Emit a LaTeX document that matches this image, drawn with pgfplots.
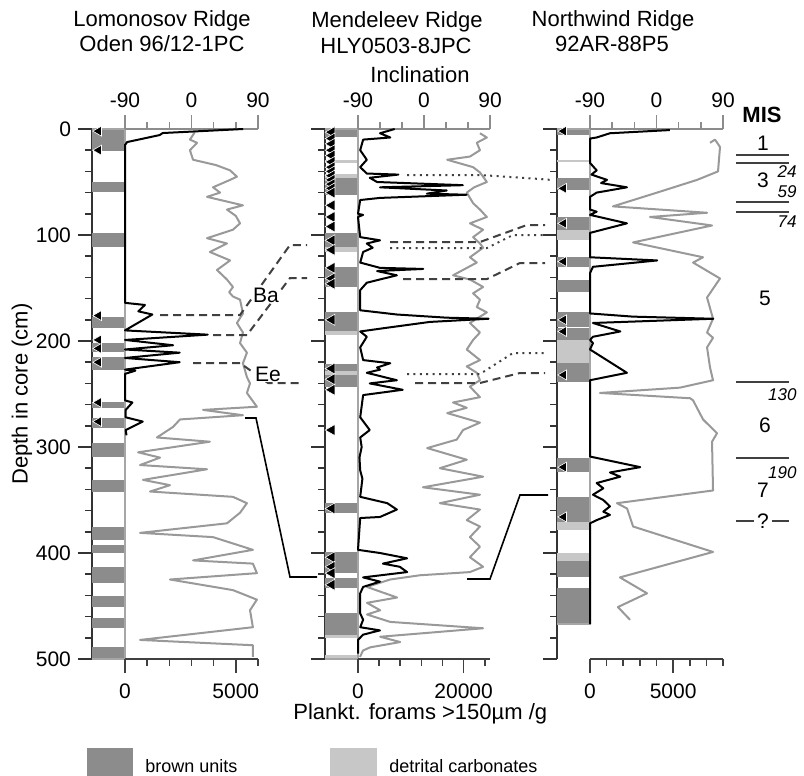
\documentclass[border=0pt]{standalone}
\usepackage{fontspec}
\setmainfont{Liberation Sans}
\usepackage{pgfplots}
\pgfplotsset{compat=1.18}
\definecolor{brownu}{gray}{0.55}
\definecolor{detc}{gray}{0.78}
\definecolor{fcurve}{gray}{0.6}
\definecolor{axg}{gray}{0.55}
\newcommand{\band}[3]{\addplot[fill=#3,draw=none,forget plot] coordinates {(0,#1) (1,#1) (1,#2) (0,#2)};}
\newcommand{\tfont}{\fontsize{10.5}{12}\selectfont}
\pgfplotsset{
 panel/.style={scale only axis, height=265pt, ymin=0, ymax=500, y dir=reverse, clip=false, anchor=center,
   tick align=outside, major tick length=7pt, minor tick length=3.5pt,
   ticklabel style={font=\tfont}, scaled x ticks=false, scaled y ticks=false},
 colaxis/.style={panel, width=16.5pt, xmin=0, xmax=1, axis x line=none, axis y line*=left,
   ytick={0,100,...,500}, minor ytick={20,40,...,480},
   y axis line style={line width=1pt, black!80},
   every tick/.style={black!80, line width=0.8pt}},
 inclaxis/.style={panel, xmin=-90, xmax=90, axis x line*=top, axis y line=none, ytick=\empty,
   xtick={-90,0,90}, xticklabels={-90,0,90}, minor xtick={-60,-30,30,60},
   x axis line style={axg, line width=1pt}, every tick/.style={axg, line width=0.8pt}},
 foramaxis/.style={panel, xmin=0, axis x line*=bottom, axis y line=none, ytick=\empty,
   x axis line style={black!75, line width=1pt}, every tick/.style={black!75, line width=0.8pt},
   xticklabel shift=2pt},
 tri/.style={only marks, mark=triangle*, mark size=2.9pt, mark options={rotate=90, fill=black, draw=white, line width=0.3pt}},
 incl/.style={black, line width=1pt, mark=none, line join=round},
 foram/.style={fcurve, line width=1pt, mark=none, line join=round},
}
\begin{document}
\begin{tikzpicture}
\path[use as bounding box] (0,0) rectangle (402pt,-388pt);

% ===== Left panel: Lomonosov Ridge =====
\begin{axis}[colaxis, at={(54.25pt,-197pt)}, yticklabels={0,100,200,300,400,500}]
\band{0}{21}{brownu}\band{50}{59}{brownu}\band{98}{111}{brownu}\band{177}{188}{brownu}
\band{202}{210}{brownu}\band{215}{227}{brownu}\band{258}{263}{brownu}\band{273}{282}{brownu}
\band{296}{309}{brownu}\band{331}{342}{brownu}\band{375}{388}{brownu}\band{392}{400}{brownu}
\band{413}{428}{brownu}\band{441}{451}{brownu}\band{461}{471}{brownu}\band{489}{500}{brownu}
\addplot[gray!70, line width=0.6pt] coordinates {(0,0) (1,0) (1,500) (0,500)};
\addplot[tri] coordinates {(0.2,2) (0.2,20) (0.2,176) (0.2,199) (0.2,207) (0.2,220) (0.2,258) (0.2,276)};
\end{axis}
\begin{axis}[foramaxis, at={(95.75pt,-197pt)}, width=66.5pt, xmax=6000,
  xtick={0,5000}, xticklabels={0,5000}, minor xtick={1000,2000,3000,4000,6000}]
\addplot[foram] coordinates {(3150,3) (2930,10) (3250,13) (2930,20) (3070,29) (4100,34) (4740,39) (5050,45) (4740,48) (3970,55) (4290,60) (3700,64) (5320,72) (4600,76) (5000,82) (5190,89) (4870,95) (3700,103) (4600,108) (3830,116) (4740,124) (4150,133) (4600,142) (4870,149) (4700,154) (4870,158) (5190,161) (5320,174) (5050,183) (5320,192) (5190,202) (5500,211) (5320,221) (5500,234) (5640,240) (5500,249) (5950,262) (3520,265) (5320,270) (2480,274) (2170,281) (1440,291) (3830,295) (590,305) (1580,310) (680,317) (3700,321) (810,331) (2030,336) (1130,342) (4870,347) (5500,353) (5190,362) (4600,372) (680,381) (3970,385) (5770,397) (3070,407) (5770,410) (5950,419) (2030,425) (4870,435) (5950,444) (5640,454) (5770,470) (680,482) (5770,487) (5770,498)};
\end{axis}
\begin{axis}[inclaxis, at={(95.75pt,-197pt)}, width=66.5pt]
\addplot[incl] coordinates {(70,0) (-39,3.8) (-43,5.7) (-87,12.3) (-90,15) (-90,164) (-63,166) (-72,172) (-53,175) (-90,190) (22,194) (-90,199) (-25,204) (-90,208) (-16,211) (-90,216) (-16,220) (-90,227) (-76,228) (-90,231) (-90,256) (-80,258) (-89,265) (-89,272) (-66,276) (-89,284) (-88,289)};
\end{axis}

% ===== Middle panel: Mendeleev Ridge =====
\begin{axis}[colaxis, at={(170.75pt,-197pt)}, yticklabels={,,,,,}]
\band{29}{32}{detc}\band{42}{46}{detc}\band{0}{8}{brownu}\band{46}{62}{brownu}\band{98}{111}{brownu}
\band{111}{116}{detc}\band{130}{149}{brownu}\band{173}{191}{brownu}\band{191}{194}{detc}
\band{222}{228}{brownu}\band{228}{232}{detc}\band{232}{243}{brownu}\band{353}{362}{brownu}
\band{399}{419}{brownu}\band{424}{433}{brownu}\band{457}{477}{brownu}\band{477}{480}{detc}\band{496}{500}{detc}
\addplot[gray!70, line width=0.6pt] coordinates {(0,0) (1,0) (1,500) (0,500)};
\addplot[tri, mark size=3.2pt] coordinates {(0.2,3) (0.2,9) (0.2,14) (0.2,20) (0.2,25) (0.2,31) (0.2,36) (0.2,40) (0.2,44) (0.2,48) (0.2,52) (0.2,56) (0.2,60) (0.2,72) (0.2,83) (0.2,92) (0.2,105) (0.2,114) (0.2,131) (0.2,141) (0.2,146) (0.2,180) (0.2,226) (0.2,236) (0.2,246) (0.2,284) (0.2,358) (0.2,404) (0.2,413) (0.2,419) (0.2,430)};
\end{axis}
\begin{axis}[foramaxis, at={(212pt,-197pt)}, width=66pt, xmax=25000,
  xtick={0,20000}, xticklabels={0,20000}, minor xtick={4000,8000,12000,16000,24000}]
\addplot[foram] coordinates {(23100,4) (24400,8) (22500,13) (23100,20) (21200,26) (16900,29) (21800,36) (23100,41) (23700,45) (24400,50) (22000,55) (20600,60) (21800,70) (23100,76) (24400,83) (21200,89) (23700,95) (21800,102) (23100,108) (23700,112) (21200,121) (22500,126) (18000,138) (21200,142) (23700,149) (21800,155) (23100,161) (22500,168) (24400,173) (21200,183) (23100,192) (21800,199) (20600,208) (23100,218) (20600,224) (22500,230) (23100,237) (21200,243) (23100,253) (18000,258) (20600,263) (16900,268) (23100,277) (19900,284) (18700,293) (13100,301) (20600,312) (15500,320) (23700,328) (12300,338) (23100,345) (15500,353) (23100,359) (20600,369) (23100,375) (21200,385) (23100,394) (21200,404) (23700,413) (21200,418) (11700,421) (6100,425) (1700,432) (7400,442) (1700,447) (4200,454) (1700,458) (6100,465) (23700,471) (4200,479) (8000,484) (2300,489) (950,492) (380,498)};
\end{axis}
\begin{axis}[inclaxis, at={(212pt,-197pt)}, width=66pt]
\addplot[incl] coordinates {(-40,0) (-60,4) (-46,8) (-83,10) (-87,20) (-78,29) (-87,36) (-78,42) (-35,43) (-74,46) (-64,50) (53,53) (-60,55) (31,58) (4,61) (58,62) (-60,65) (-87,67) (-90,80) (-83,81) (-90,83) (-87,102) (-60,105) (-78,108) (-70,112) (-83,116) (-87,126) (-60,131) (-1,132) (-64,134) (-37,138) (-78,145) (-87,152) (-87,171) (-37,175) (31,178) (88,179) (8,182) (-56,188) (-87,191) (-78,196) (-87,206) (-83,218) (-46,221) (-64,225) (-60,227) (-78,230) (-37,237) (-74,240) (-29,246) (-83,251) (-87,272) (-74,284) (-87,291) (-85,300) (-88,310) (-87,322) (-84,330) (-87,347) (-50,353) (-37,359) (-60,366) (-87,367) (-90,397) (-60,400) (-23,405) (-56,410) (-33,413) (-23,418) (-83,423) (-60,427) (-83,432) (-87,438) (-87,457) (-83,463) (-87,470) (-60,473) (-83,477) (-90,482) (-90,495)};
\end{axis}

% ===== Right panel: Northwind Ridge =====
\begin{axis}[colaxis, at={(286.75pt,-197pt)}, yticklabels={,,,,,}]
\band{0}{6}{brownu}\band{29}{31}{detc}\band{46}{58}{brownu}\band{83}{95}{brownu}\band{95}{105}{detc}
\band{121}{130}{brownu}\band{142}{154}{brownu}\band{173}{187}{brownu}\band{188}{199}{brownu}
\band{199}{221}{detc}\band{221}{239}{brownu}\band{310}{324}{brownu}\band{347}{371}{brownu}
\band{371}{378}{detc}\band{400}{408}{detc}\band{408}{423}{brownu}\band{433}{467}{brownu}
\addplot[gray!70, line width=0.6pt] coordinates {(0,0) (1,0) (1,467) (0,467)};
\addplot[tri] coordinates {(0.2,2) (0.2,56) (0.2,89) (0.2,125) (0.2,180) (0.2,191) (0.2,232) (0.2,319) (0.2,366)};
\end{axis}
\begin{axis}[foramaxis, at={(328.25pt,-197pt)}, width=66.5pt, xmax=8000,
  xtick={0,5000}, xticklabels={0,5000}, minor xtick={1000,2000,3000,4000,6000,7000,8000}]
\addplot[foram] coordinates {(7220,13) (7520,10) (7820,17) (7700,40) (6440,48) (4030,60) (1380,73) (7040,79) (3610,83) (7340,91) (2590,107) (6800,121) (6200,126) (7820,141) (7040,159) (7400,179) (7040,192) (7400,197) (7040,206) (7220,225) (7400,237) (5410,244) (600,249) (6020,254) (6200,256) (6800,274) (7640,287) (7340,295) (7400,341) (1620,353) (2230,358) (2590,375) (7400,399) (1800,423) (3430,438) (1680,451) (2410,463)};
\end{axis}
\begin{axis}[inclaxis, at={(328.25pt,-197pt)}, width=66.5pt]
\addplot[incl] coordinates {(18,1) (-63,4) (-81,8) (-90,9) (-90,32) (-81,39) (-88,43) (-67,48) (-75,51) (-40,55) (-81,60) (-90,64) (-90,76) (-81,78) (-90,81) (-40,89) (-90,98) (-90,121) (1,124) (-86,130) (-90,136) (-90,174) (-32,177) (77,179) (-86,183) (-49,191) (-86,196) (-90,199) (-86,202) (-90,208) (-40,230) (-90,237) (-90,309) (-22,319) (-63,324) (-49,328) (-81,334) (-72,339) (-86,345) (-72,350) (-63,356) (-72,361) (-63,364) (-81,369) (-90,372) (-90,467)};
\end{axis}

% ===== Annotations in pixel coordinates =====
\begin{scope}[x=0.5pt,y=-0.5pt]
\tfont
% titles
\node[font=\fontsize{11}{13}\selectfont] at (162,21) {Lomonosov Ridge};
\node[font=\fontsize{11}{13}\selectfont] at (162,44) {Oden 96/12-1PC};
\node[font=\fontsize{11}{13}\selectfont] at (397,22) {Mendeleev Ridge};
\node[font=\fontsize{11}{13}\selectfont] at (396,46) {HLY0503-8JPC};
\node[font=\fontsize{11}{13}\selectfont] at (420,75) {Inclination};
\node[font=\fontsize{11}{13}\selectfont] at (613,21) {Northwind Ridge};
\node[font=\fontsize{11}{13}\selectfont] at (612,44) {92AR-88P5};
\node[font=\fontsize{11}{13}\selectfont, rotate=90] at (22,394) {Depth in core (cm)};
\node[font=\fontsize{11}{13}\selectfont, anchor=west] at (286,714) {Plankt. forams >150µm /g};
% correlation lines
\begin{scope}[line width=1pt, black!75, dash pattern=on 4pt off 2.5pt]
\draw (160,315) -- (240,315) -- (290,245) -- (307,245);
\draw (390,242) -- (480,242) -- (527,225) -- (545,225);
\draw (213,335) -- (247,335) -- (290,278) -- (307,278);
\draw (403,279) -- (487,279) -- (520,263) -- (545,263);
\draw (193,363) -- (240,363) -- (268,383) -- (302,383);
\draw (415,383) -- (480,383) -- (520,373) -- (545,373);
\end{scope}
\begin{scope}[line width=1pt, black!75, dash pattern=on 1pt off 2.2pt]
\draw (407,175) -- (480,175) -- (540,179) -- (552,180);
\draw (390,248) -- (487,248) -- (513,235) -- (545,235);
\draw (407,374) -- (480,374) -- (513,353) -- (545,353);
\end{scope}
\draw[black, line width=0.8pt] (245,418) -- (256,418) -- (290,577) -- (317,577);
\draw[black, line width=0.8pt] (467,579) -- (490,579) -- (520,495) -- (548,495);
\node[fill=white, inner sep=0.5pt] at (266,295) {Ba};
\node[fill=white, inner sep=0.5pt] at (268,374) {Ee};
% MIS column
\node[font=\fontsize{11}{13}\selectfont\bfseries] at (762,115) {MIS};
\node at (763,143) {1};
\node at (763,180) {3};
\node at (765,298) {5};
\node at (765,425) {6};
\node at (763,490) {7};
\begin{scope}[line width=1.2pt, black!75]
\draw (736,155) -- (789,155);
\draw (736,163) -- (789,163);
\draw (736,202) -- (789,202);
\draw (736,212) -- (789,212);
\draw (736,382) -- (789,382);
\draw (736,458) -- (789,458);
\draw (736,521) -- (754,521);
\draw (772,521) -- (789,521);
\end{scope}
\node at (763,521) {?};
\begin{scope}[font=\fontsize{8.5}{10}\selectfont\itshape]
\node[anchor=east] at (804,172) {24};
\node[anchor=east] at (804,192) {59};
\node[anchor=east] at (804,222) {74};
\node[anchor=east] at (804,395) {130};
\node[anchor=east] at (804,473) {190};
\end{scope}
% legend
\fill[brownu] (87,748) rectangle (133,776);
\node[anchor=west, font=\fontsize{9}{11}\selectfont] at (138,766) {brown units};
\fill[detc] (330,748) rectangle (377,776);
\node[anchor=west, font=\fontsize{9}{11}\selectfont] at (382,766) {detrital carbonates};
\end{scope}
\end{tikzpicture}
\end{document}
